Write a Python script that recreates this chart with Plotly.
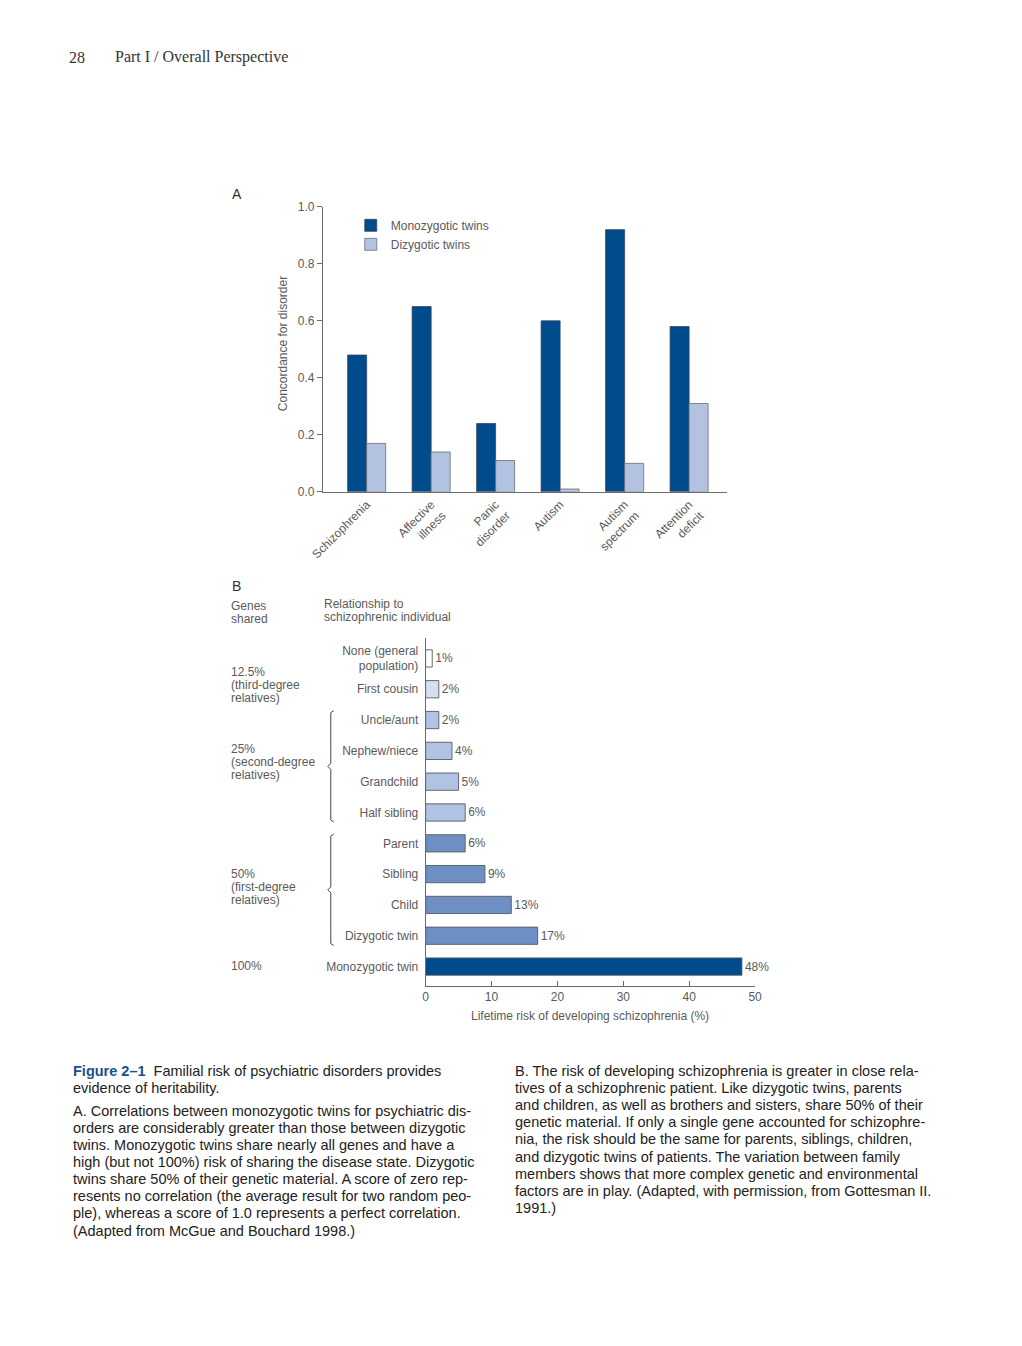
import plotly.graph_objects as go

W, H = 1022, 1346
# the photographed page is slightly rescaled; these map target pixel positions to figure space
SX, OX = 0.982, 11.7
SY, OY = 0.986, 7.9
def px(x): return ((x - OX) / SX) / W
def py(y): return 1 - ((y - OY) / SY) / H

# ---------- Data: panel A ----------
disorders = ["Schizophrenia", "Affective<br>illness", "Panic<br>disorder", "Autism",
             "Autism<br>spectrum", "Attention<br>deficit"]
mz_concordance = [0.48, 0.65, 0.24, 0.60, 0.92, 0.58]
dz_concordance = [0.17, 0.14, 0.11, 0.01, 0.10, 0.31]
a_ticks = [0.0, 0.2, 0.4, 0.6, 0.8, 1.0]
a_ticklabels = ["0.0", "0.2", "0.4", "0.6", "0.8", "1.0"]

# ---------- Data: panel B ----------
relations = ["None (general<br>population)", "First cousin", "Uncle/aunt", "Nephew/niece",
             "Grandchild", "Half sibling", "Parent", "Sibling", "Child",
             "Dizygotic twin", "Monozygotic twin"]
risk = [1, 2, 2, 4, 5, 6, 6, 9, 13, 17, 48]
risk_labels = ["1%", "2%", "2%", "4%", "5%", "6%", "6%", "9%", "13%", "17%", "48%"]
group_of = ["none", "third", "second", "second", "second", "second",
            "first", "first", "first", "first", "mz"]
b_ticks = [0, 10, 20, 30, 40, 50]

MZ_BLUE = "#004b8c"
DZ_BLUE = "#b2c2e0"
group_colors = {"none": "#ffffff", "third": "#d5dff0", "second": "#b1c3e2",
                "first": "#6e8fc3", "mz": MZ_BLUE}
bar_colors = [group_colors[g] for g in group_of]

GRAY = "#5a5a5a"
FONT = "Liberation Sans"
FS = 12

fig = go.Figure()

fig.add_trace(go.Bar(x=disorders, y=mz_concordance, name="Monozygotic twins",
                     marker=dict(color=MZ_BLUE, line=dict(color="#33465e", width=0.8)),
                     xaxis="x", yaxis="y"))
fig.add_trace(go.Bar(x=disorders, y=dz_concordance, name="Dizygotic twins",
                     marker=dict(color=DZ_BLUE, line=dict(color="#6a6f78", width=0.8)),
                     xaxis="x", yaxis="y"))

fig.add_trace(go.Bar(y=relations, x=risk, orientation="h", width=0.56,
                     marker=dict(color=bar_colors, line=dict(color="#555a62", width=0.9)),
                     text=risk_labels, textposition="outside", cliponaxis=False,
                     textfont=dict(family=FONT, size=FS, color=GRAY),
                     showlegend=False, xaxis="x2", yaxis="y2"))

axis_common = dict(showgrid=False, zeroline=False, showline=True, linecolor="#6a6a6a",
                   linewidth=1, tickfont=dict(family=FONT, size=FS, color=GRAY))

fig.update_layout(
    width=W, height=H, autosize=False,
    margin=dict(l=0, r=0, t=0, b=0),
    paper_bgcolor="white", plot_bgcolor="white",
    barmode="group", bargap=0.41, bargroupgap=0,
    font=dict(family=FONT, color=GRAY),
    xaxis=dict(domain=[px(322), px(727)], anchor="y", type="category",
               range=[-0.68, 5.59], ticks="", tickangle=-45, **axis_common),
    yaxis=dict(domain=[py(491), py(207)], anchor="x", range=[0, 1.0],
               tickvals=a_ticks, ticktext=a_ticklabels, ticks="outside", ticklen=5,
               tickcolor="#6a6a6a", **axis_common),
    xaxis2=dict(domain=[px(425), px(755)], anchor="y2", range=[0, 50],
                tickvals=b_ticks, ticks="inside", ticklen=5, tickcolor="#6a6a6a",
                **axis_common),
    yaxis2=dict(domain=[py(983), py(637)], anchor="x2", type="category",
                range=[10.62, -0.65], ticks="", ticklabelstandoff=4, **axis_common),
    legend=dict(x=px(350), y=py(211), xanchor="left", yanchor="top",
                bgcolor="rgba(0,0,0,0)", font=dict(family=FONT, size=FS, color=GRAY),
                tracegroupgap=0, itemwidth=30),
)

ann = []
def text(x, y, s, size=FS, color=GRAY, family=FONT, anchor="left", **kw):
    ann.append(dict(x=px(x), y=py(y - 2), xref="paper", yref="paper", text=s,
                    showarrow=False, xanchor=anchor, yanchor="middle",
                    font=dict(family=family, size=size, color=color), **kw))

def block(x, y0, lines, step=13, **kw):
    for i, s in enumerate(lines):
        text(x, y0 + i * step, s, **kw)

# header
text(66, 60, "28", size=16, color="#333333", family="Liberation Serif")
text(112, 60, "Part I / Overall Perspective", size=16, color="#333333", family="Liberation Serif")

# panel labels
text(229, 196, "A", size=14, color="#333333")
text(229, 587, "B", size=14, color="#333333")

# panel A y title
text(282, 345, "Concordance for disorder", anchor="center", textangle=-90)

# panel B headers and groups
block(228, 607, ["Genes", "shared"])
block(321, 605, ["Relationship to", "schizophrenic individual"])
block(228, 672, ["12.5%", "(third-degree", "relatives)"])
block(228, 749, ["25%", "(second-degree", "relatives)"])
block(228, 874, ["50%", "(first-degree", "relatives)"])
text(228, 965, "100%")
text(590, 1015, "Lifetime risk of developing schizophrenia (%)", anchor="center")

# captions
CAP = "#222222"
left_lines = [
    (1070, "<span style='color:#1b4f8f'><b>Figure 2–1</b></span>  Familial risk of psychiatric disorders provides"),
    (1087, "evidence of heritability."),
    (1110, "A. Correlations between monozygotic twins for psychiatric dis-"),
    (1127, "orders are considerably greater than those between dizygotic"),
    (1144, "twins. Monozygotic twins share nearly all genes and have a"),
    (1161, "high (but not 100%) risk of sharing the disease state. Dizygotic"),
    (1178, "twins share 50% of their genetic material. A score of zero rep-"),
    (1195, "resents no correlation (the average result for two random peo-"),
    (1212, "ple), whereas a score of 1.0 represents a perfect correlation."),
    (1229, "(Adapted from McGue and Bouchard 1998.)"),
]
right_lines = [
    (1070, "B. The risk of developing schizophrenia is greater in close rela-"),
    (1087, "tives of a schizophrenic patient. Like dizygotic twins, parents"),
    (1104, "and children, as well as brothers and sisters, share 50% of their"),
    (1121, "genetic material. If only a single gene accounted for schizophre-"),
    (1138, "nia, the risk should be the same for parents, siblings, children,"),
    (1156, "and dizygotic twins of patients. The variation between family"),
    (1173, "members shows that more complex genetic and environmental"),
    (1190, "factors are in play. (Adapted, with permission, from Gottesman II."),
    (1207, "1991.)"),
]
for y, s in left_lines:
    text(70, y, s, size=14.5, color=CAP)
for y, s in right_lines:
    text(513, y, s, size=14.5, color=CAP)

fig.update_layout(annotations=ann)

# curly braces for the second- and first-degree groups
def brace(y0, y1, x=330):
    ym = (y0 + y1) / 2
    path = (f"M {px(x+3)},{py(y0)} L {px(x)},{py(y0+2)} L {px(x)},{py(ym-3)} "
            f"L {px(x-3)},{py(ym)} L {px(x)},{py(ym+3)} L {px(x)},{py(y1-2)} "
            f"L {px(x+3)},{py(y1)}")
    return dict(type="path", xref="paper", yref="paper", path=path,
                line=dict(color="#444444", width=1))

fig.update_layout(shapes=[brace(709, 820), brace(832, 943)])

fig.write_html("out.html", config={"displayModeBar": False},
               post_script="document.body.style.margin='0';document.body.style.overflow='hidden';")
